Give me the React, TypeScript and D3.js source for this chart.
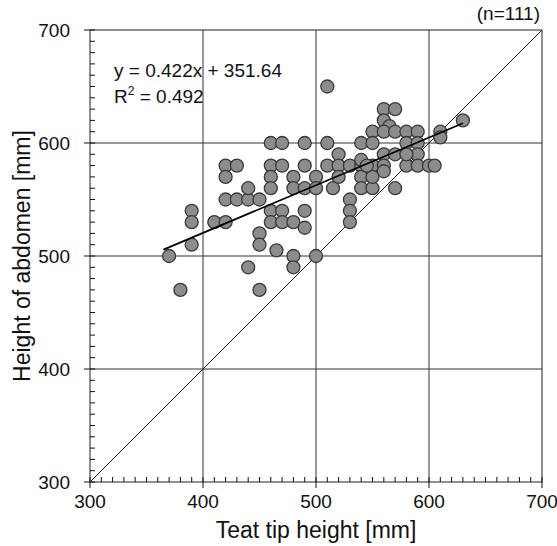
import React from "react";
import * as d3 from "d3";

const xTicks = [300, 400, 500, 600, 700];
const yTicks = [300, 400, 500, 600, 700];
const slope = 0.422;
const intercept = 351.64;
const lineX = [365, 630];
const eqText = "y = 0.422x + 351.64";
const r2Value = "0.492";
const nText = "(n=111)";

const teatX = [
  370, 380, 390, 390, 390, 410, 420, 420, 430, 420, 420, 430, 440, 450, 440, 440, 450, 450, 450,
  460, 470, 490, 510, 540, 510, 520, 460, 470, 490, 510, 520, 530, 540, 460, 460, 480, 480, 490,
  500, 500, 515, 520, 540, 540, 550, 530, 530, 530, 460, 470, 460, 470, 480, 490, 490, 465, 480,
  480, 500,
  560, 570, 560, 565, 550, 560, 570, 580, 590, 550, 580, 590, 590, 610, 610, 630, 560, 570, 540,
  550, 560, 560, 580, 590, 600, 605, 550, 570, 545, 580,
];
const abdomenY = [
  500, 470, 540, 530, 510, 530, 530, 580, 580, 570, 550, 550, 550, 550, 560, 490, 470, 520, 510,
  600, 600, 600, 600, 600, 650, 590, 580, 580, 580, 580, 580, 580, 580, 570, 560, 570, 560, 560,
  570, 560, 560, 570, 570, 560, 560, 550, 540, 530, 540, 540, 530, 530, 530, 540, 525, 505, 500,
  490, 500,
  630, 630, 620, 615, 610, 610, 610, 610, 610, 600, 600, 600, 590, 610, 605, 620, 590, 590, 585,
  580, 580, 575, 580, 580, 580, 580, 570, 560, 580, 590,
];

export default function App() {
  const W = 557, H = 546;
  const x = d3.scaleLinear().domain([300, 700]).range([90, 542]);
  const y = d3.scaleLinear().domain([300, 700]).range([482, 30]);
  const minor = d3.range(300, 701, 10);
  const font = "Liberation Sans, Arial, sans-serif";
  const reg = d3.line<number>().x((v) => x(v)).y((v) => y(slope * v + intercept));
  const diag = d3.line<number>().x((v) => x(v)).y((v) => y(v));
  const pts = teatX.map((v, i) => [v, abdomenY[i]]);
  return (
    <svg width={W} height={H} style={{ position: "absolute", left: 0, top: 0, background: "#fff" }}>
      {xTicks.slice(1, -1).map((t) => (
        <line key={"gx" + t} x1={x(t)} x2={x(t)} y1={y(700)} y2={y(300)} stroke="#333" strokeWidth={1} />
      ))}
      {yTicks.slice(1, -1).map((t) => (
        <line key={"gy" + t} x1={x(300)} x2={x(700)} y1={y(t)} y2={y(t)} stroke="#333" strokeWidth={1} />
      ))}
      <rect x={x(300)} y={y(700)} width={x(700) - x(300)} height={y(300) - y(700)} fill="none" stroke="#222" strokeWidth={1} />
      {minor.map((t) => (
        <line key={"mx" + t} x1={x(t)} x2={x(t)} y1={y(300)} y2={y(300) - 5} stroke="#111" />
      ))}
      {minor.map((t) => (
        <line key={"my" + t} x1={x(300)} x2={x(300) + 5} y1={y(t)} y2={y(t)} stroke="#111" />
      ))}
      {xTicks.map((t) => (
        <line key={"tx" + t} x1={x(t)} x2={x(t)} y1={y(300)} y2={y(300) + 6} stroke="#111" />
      ))}
      {yTicks.map((t) => (
        <line key={"ty" + t} x1={x(300) - 6} x2={x(300)} y1={y(t)} y2={y(t)} stroke="#111" />
      ))}
      <path d={diag([300, 700]) || ""} stroke="#222" strokeWidth={1} fill="none" />
      {pts.map(([a, b], i) => (
        <circle key={i} cx={x(a)} cy={y(b)} r={6.5} fill="#8c8c8c" stroke="#3a3a3a" strokeWidth={1.3} />
      ))}
      <path d={reg(lineX) || ""} stroke="#000" strokeWidth={1.8} fill="none" />
      {xTicks.map((t) => (
        <text key={"lx" + t} x={x(t)} y={508} textAnchor="middle" fontFamily={font} fontSize={19} fill="#111">{t}</text>
      ))}
      {yTicks.map((t) => (
        <text key={"ly" + t} x={70} y={y(t) + 7} textAnchor="end" fontFamily={font} fontSize={19} fill="#111">{t}</text>
      ))}
      <text x={x(500)} y={538} textAnchor="middle" fontFamily={font} fontSize={23} fill="#111">Teat tip height [mm]</text>
      <text transform={`translate(30,${y(500)}) rotate(-90)`} textAnchor="middle" fontFamily={font} fontSize={23} fill="#111">Height of abdomen [mm]</text>
      <text x={114} y={77} fontFamily={font} fontSize={19} fill="#111">{eqText}</text>
      <text x={114} y={103} fontFamily={font} fontSize={19} fill="#111">
        R<tspan dy={-8} fontSize={12}>2</tspan><tspan dy={8}> = {r2Value}</tspan>
      </text>
      <text x={540} y={20} textAnchor="end" fontFamily={font} fontSize={19} fill="#111">{nText}</text>
    </svg>
  );
}
